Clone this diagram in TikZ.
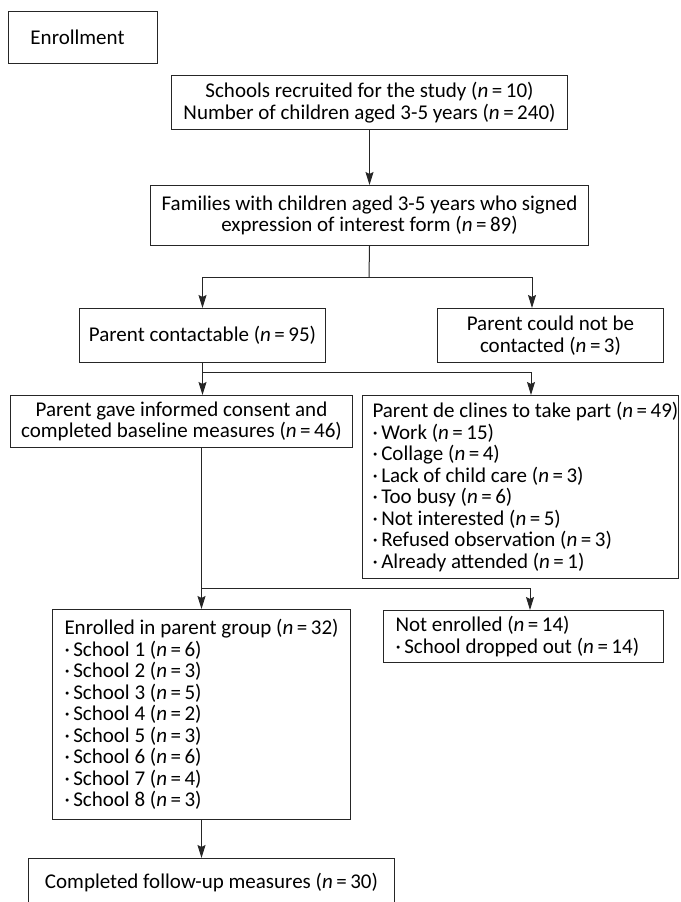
\documentclass[tikz,border=0pt]{standalone}
\usepackage{fontspec}
\setmainfont{Carlito}
\usetikzlibrary{arrows.meta,calc}
\newcommand{\nval}[1]{(\textit{n}\,=\,#1)}
\newcommand{\natsp}{\spaceskip=0pt\xspaceskip=0pt\relax}
\begin{document}
\begin{tikzpicture}[x=1pt,y=-1pt,
  box/.style={draw=black!85, line width=1pt, inner ysep=0pt, inner xsep=0pt, font=\fontsize{21}{21.5}\selectfont, anchor=north west, text=black},
  cbox/.style={box, align=center},
  lbox/.style={box, align=left},
  ln/.style={draw=black!85, line width=1pt},
  arr/.style={ln, -{Stealth[length=13pt,width=8pt,inset=2pt]}}]
\useasboundingbox (0,0) rectangle (680,902);

\node[lbox, inner xsep=22pt, text width=105pt, minimum height=52pt] (enr) at (8,11) {\natsp Enrollment};

\node[cbox, minimum width=396pt, minimum height=54pt] (sch) at (171,75)
  {Schools recruited for the study \nval{10}\\Number of children aged 3-5 years \nval{240}};

\node[cbox, minimum width=438pt, minimum height=60pt] (fam) at (150,185)
  {Families with children aged 3-5 years who signed\\expression of interest form \nval{89}};

\node[cbox, minimum width=246pt, minimum height=54pt] (con) at (79,308)
  {Parent contactable \nval{95}};

\node[cbox, minimum width=226pt, minimum height=54pt] (ncon) at (437,308)
  {Parent could not be\\contacted \nval{3}};

\node[cbox, minimum width=342pt, minimum height=52pt] (cons) at (10,395)
  {Parent gave informed consent and\\completed baseline measures \nval{46}};

\node[lbox, inner xsep=10pt, text width=296pt, minimum height=183pt] (dec) at (362,395)
  {\natsp\mbox{Parent de clines to take part \nval{49}}\\
   \mbox{·\,Work \nval{15}}\\
   \mbox{·\,Collage \nval{4}}\\
   \mbox{·\,Lack of child care \nval{3}}\\
   \mbox{·\,Too busy \nval{6}}\\
   \mbox{·\,Not interested \nval{5}}\\
   \mbox{·\,Refused observation \nval{3}}\\
   \mbox{·\,Already attended \nval{1}}};

\node[lbox, inner xsep=12pt, text width=274pt, minimum height=210pt] (enrl) at (52,609)
  {\natsp\mbox{Enrolled in parent group \nval{32}}\\
   \mbox{·\,School 1 \nval{6}}\\
   \mbox{·\,School 2 \nval{3}}\\
   \mbox{·\,School 3 \nval{5}}\\
   \mbox{·\,School 4 \nval{2}}\\
   \mbox{·\,School 5 \nval{3}}\\
   \mbox{·\,School 6 \nval{6}}\\
   \mbox{·\,School 7 \nval{4}}\\
   \mbox{·\,School 8 \nval{3}}};

\node[lbox, inner xsep=12pt, text width=256pt, minimum height=52pt] (nen) at (383,610)
  {\natsp\mbox{Not enrolled \nval{14}}\\
   \mbox{·\,School dropped out \nval{14}}};

\node[cbox, minimum width=366pt, minimum height=48pt] (comp) at (28,858)
  {Completed follow-up measures \nval{30}};

% connectors
\draw[arr] (sch.south) -- (fam.north);

\coordinate (j1) at (369,277);
\coordinate (t1) at (532,308);
\draw[ln] (fam.south) -- (j1);
\draw[arr] (j1) -| (con.north);
\draw[arr] (j1) -| (t1);

\draw[arr] (con.south) -- (con.south |- cons.north);
\coordinate (j2) at (202,372);
\coordinate (t2) at (531,395);
\draw[arr] (j2) -| (t2);

\draw[arr] (cons.south -| enrl.north) -- (enrl.north);
\coordinate (j3) at (201,588);
\coordinate (t3) at (530,610);
\draw[arr] (j3) -| (t3);

\draw[arr] (enrl.south) -- (enrl.south |- comp.north);
\end{tikzpicture}
\end{document}
